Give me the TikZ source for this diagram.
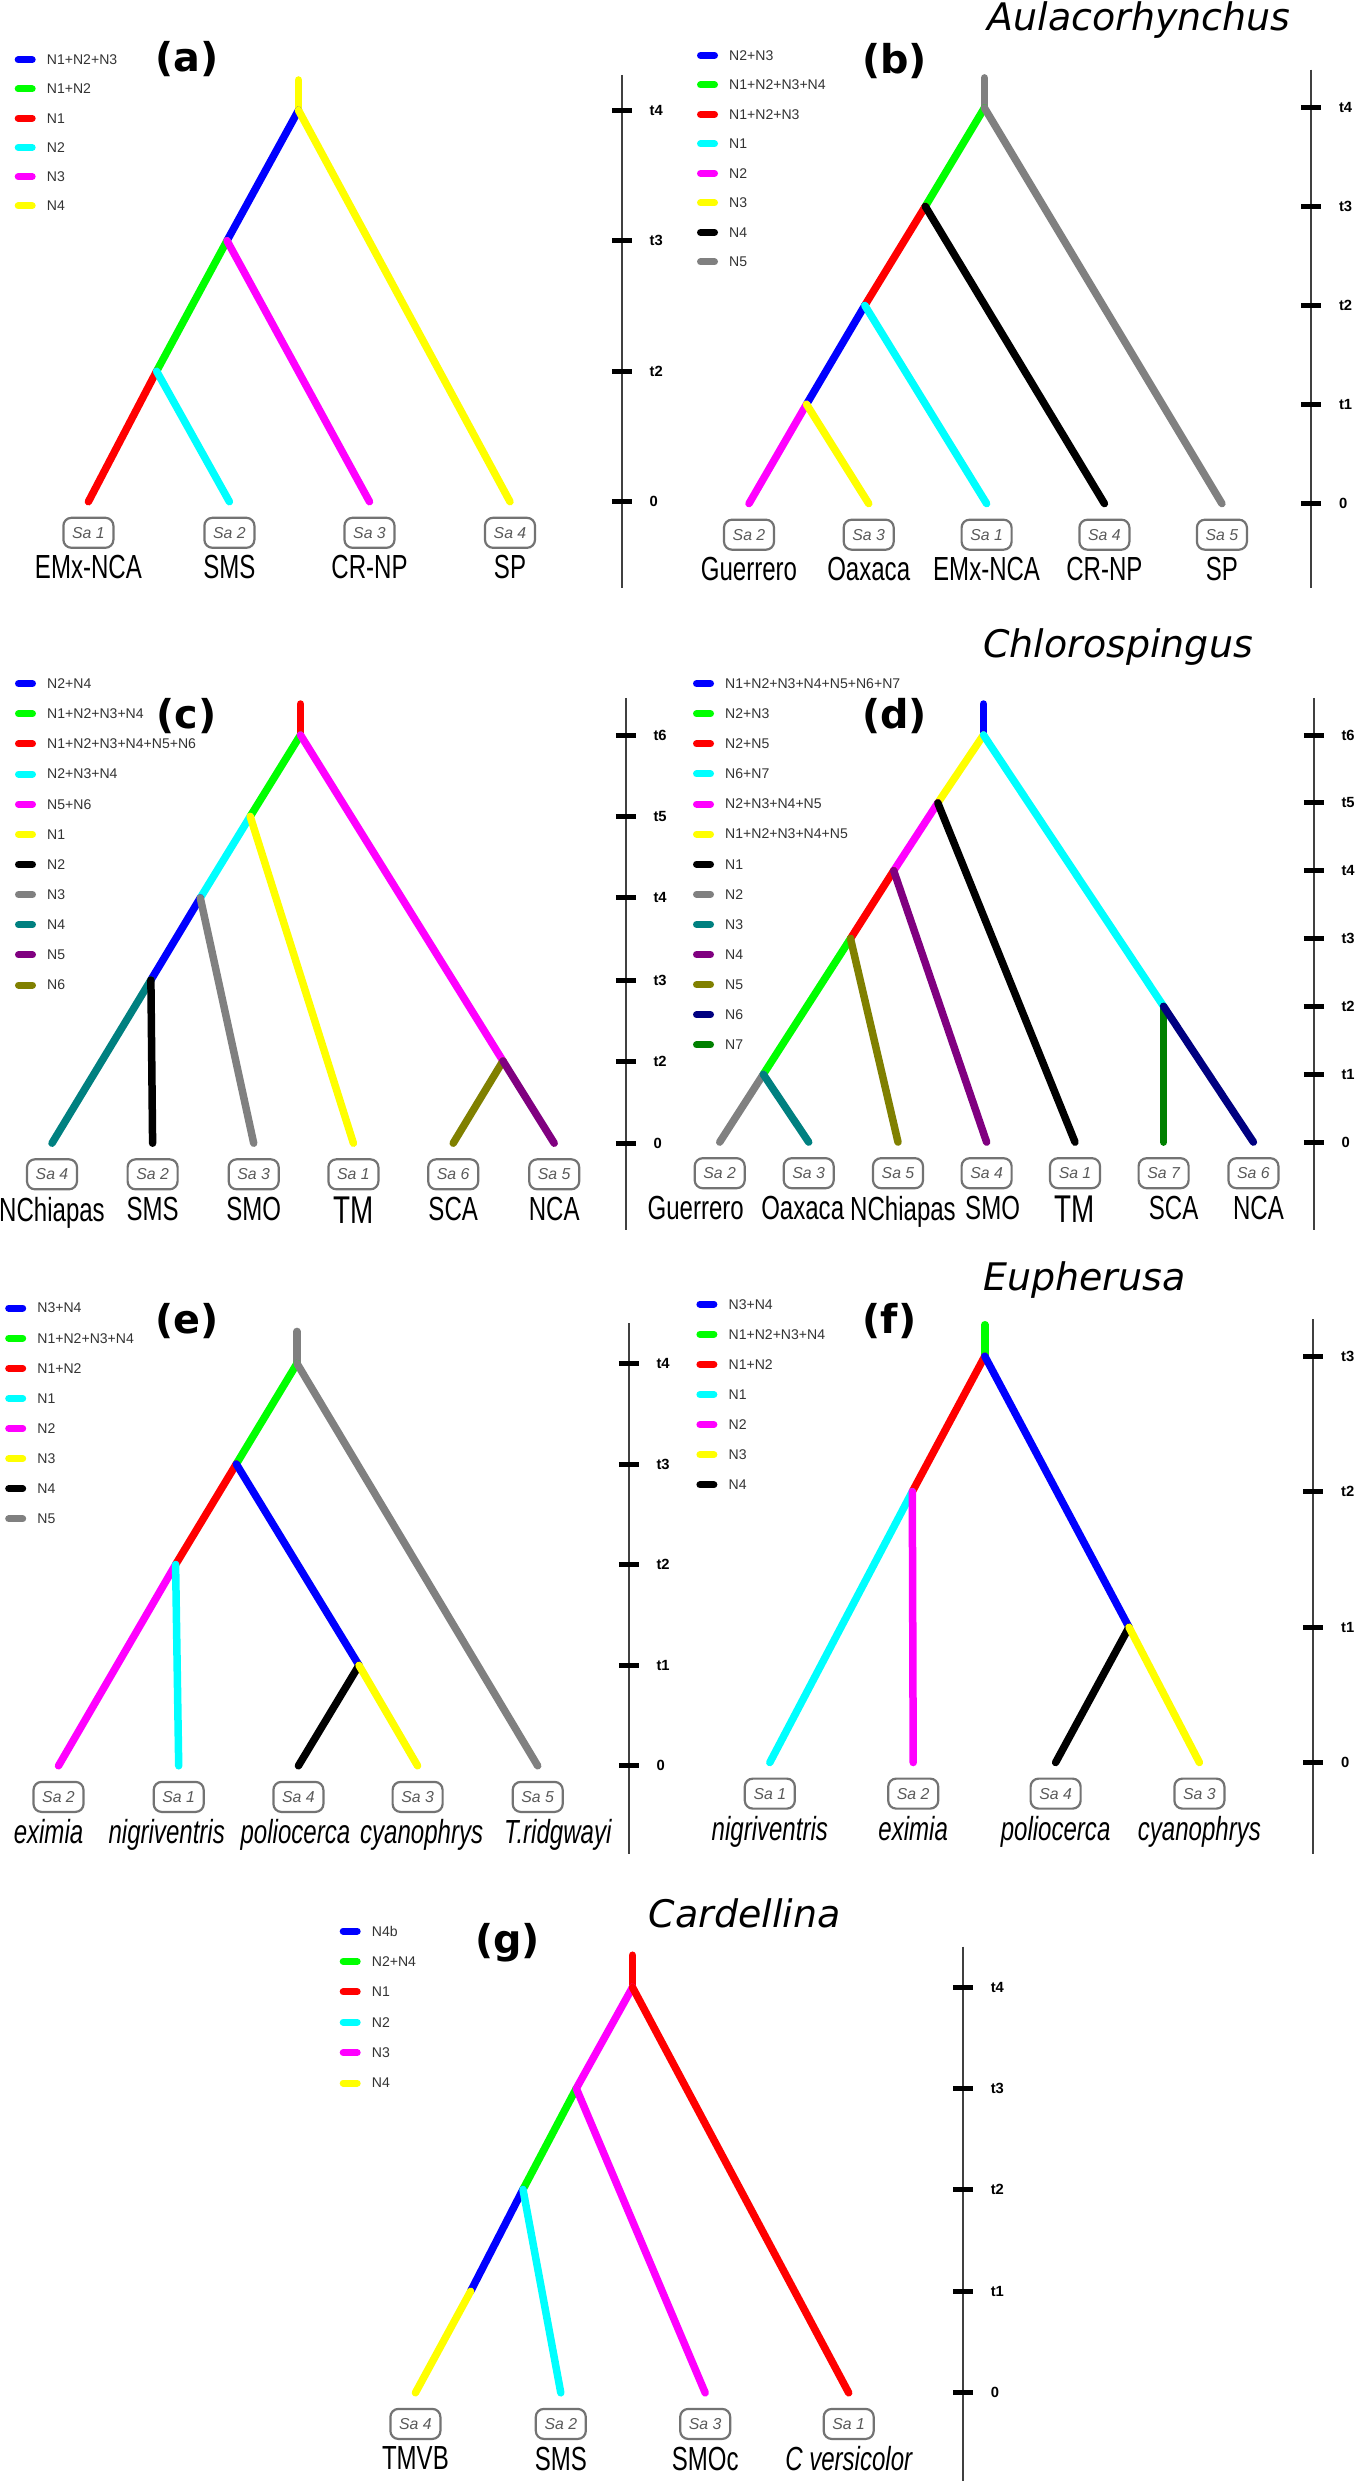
\documentclass[tikz,border=0pt]{standalone}
\usepackage{fontspec}
\setmainfont{Liberation Sans}
\newfontfamily\tipfont[FakeStretch=0.72]{Liberation Sans}
\newfontfamily\headfont[ItalicFont={DejaVu Sans Oblique},BoldFont={DejaVu Sans Bold}]{DejaVu Sans}
\usetikzlibrary{positioning}
\definecolor{nblue}{RGB}{0,0,255}
\definecolor{ngreen}{RGB}{0,255,0}
\definecolor{nred}{RGB}{255,0,0}
\definecolor{ncyan}{RGB}{0,255,255}
\definecolor{nmag}{RGB}{255,0,255}
\definecolor{nyel}{RGB}{255,255,0}
\definecolor{nblack}{RGB}{0,0,0}
\definecolor{ngray}{RGB}{128,128,128}
\definecolor{nteal}{RGB}{0,128,128}
\definecolor{npurp}{RGB}{128,0,128}
\definecolor{nolive}{RGB}{128,128,0}
\definecolor{nnavy}{RGB}{0,0,128}
\definecolor{ndkgr}{RGB}{0,128,0}
\newcommand{\KW}{14}
\newcommand{\KX}{31.5}
\newcommand{\TX}{27}
% colour key: #1 prefix, #2 left x, #3 first row y, #4 row step, #5 colour/text list
\newcommand{\keylist}[5]{%
  \foreach \kc/\kt [count=\i from 0] in {#5} {
    \coordinate (#1s\i) at ({#2+3.5},{#3+\i*#4});
    \coordinate (#1e\i) at ({#2+3.5+\KW},{#3+\i*#4});
    \draw[swatch, draw=\kc] (#1s\i) -- (#1e\i);
    \node[keytext] (#1k\i) at ({#2+\KX},{#3+\i*#4}) {\kt};
  }}
% time axis: #1 prefix, #2 x, #3 top, #4 bottom, #5 y/label list
\newcommand{\timeaxis}[5]{%
  \coordinate (#1top) at (#2,#3);
  \coordinate (#1bot) at (#2,#4);
  \draw[axis] (#1top) -- (#1bot);
  \foreach \ty/\tlab [count=\i] in {#5} {
    \coordinate (#1tl\i) at ({#2-10},\ty);
    \coordinate (#1tr\i) at ({#2+10},\ty);
    \draw[tick] (#1tl\i) -- (#1tr\i);
    \node[ticktext] (#1tt\i) at ({#2+\TX},\ty) {\tlab};
  }}
% tip of a tree: [#1 name shift], #2 name, #3 leaf, #4 Sa number, #5 locality
\newcommand{\tipbox}[5][0mm]{%
  \node[sabox, below=1.5mm of #3] (#2) {Sa #4};
  \node[taxon, below=0.6mm of #2, xshift=#1] (#2n) {#5};}

\begin{document}
\begin{tikzpicture}[
    x=0.1mm, y=-0.1mm,
    br/.style={line width=0.75mm, line cap=round},
    swatch/.style={line width=0.7mm, line cap=round},
    axis/.style={draw=black!75, line width=0.2mm},
    tick/.style={draw=black, line width=0.5mm},
    keytext/.style={font=\fontsize{4}{5}\selectfont, text=black!80, anchor=west, inner sep=0pt},
    ticktext/.style={font=\fontsize{4.2}{5}\selectfont\bfseries, anchor=west, inner sep=0pt},
    sabox/.style={draw=black!55, line width=0.22mm, rounded corners=0.8mm, minimum width=5mm,
                  minimum height=3mm, inner sep=0pt, font=\fontsize{4.5}{5}\selectfont\itshape, text=black!65},
    taxon/.style={font=\tipfont\fontsize{9.5}{10}\selectfont, inner sep=0pt},
    genus/.style={font=\headfont\itshape\fontsize{10.8}{12}\selectfont},
    panel/.style={font=\headfont\bfseries\fontsize{11.3}{13}\selectfont},
  ]
  \useasboundingbox (0,0) rectangle (1357,2481);

  %% ================= (a) =================
  \keylist{a}{14.7}{59.8}{29.2}{nblue/N1+N2+N3, ngreen/N1+N2, nred/N1, ncyan/N2, nmag/N3, nyel/N4}
  \node[panel] (alab) at (187,59) {(a)};
  \coordinate (aT) at (298.5,80);
  \coordinate (aR) at (298.5,110.3);
  \coordinate (aA) at (227,240.7);
  \coordinate (aB) at (156.6,371.2);
  \foreach \x [count=\i] in {88.4,229.4,369.5,510} { \coordinate (aL\i) at (\x,501.7); }
  \draw[br, nyel] (aT) -- (aR);
  \draw[br, nblue] (aR) -- (aA);
  \draw[br, nyel] (aR) -- (aL4);
  \draw[br, ngreen] (aA) -- (aB);
  \draw[br, nmag] (aA) -- (aL3);
  \draw[br, nred] (aB) -- (aL1);
  \draw[br, ncyan] (aB) -- (aL2);
  \timeaxis{a}{622}{75}{588}{110.3/t4, 240.7/t3, 371.2/t2, 501.7/0}
  \foreach \s/\t [count=\i] in {1/EMx-NCA, 2/SMS, 3/CR-NP, 4/SP} { \tipbox{aS\i}{aL\i}{\s}{\t} }

  %% ================= (b) Aulacorhynchus =================
  \node[genus] (bgen) at (1139,19.6) {Aulacorhynchus};
  \keylist{b}{697}{55.4}{29.5}{nblue/N2+N3, ngreen/N1+N2+N3+N4, nred/N1+N2+N3, ncyan/N1, nmag/N2, nyel/N3, nblack/N4, ngray/N5}
  \node[panel] (blab) at (894.6,60.7) {(b)};
  \coordinate (bT) at (984.4,77.9);
  \coordinate (bR) at (984.4,107.9);
  \coordinate (bA) at (925.3,206.4);
  \coordinate (bB) at (864.8,305.4);
  \coordinate (bC) at (806.5,404.3);
  \foreach \x [count=\i] in {749,868.7,986.6,1104.4,1221.9} { \coordinate (bL\i) at (\x,503.6); }
  \draw[br, ngray] (bT) -- (bR);
  \draw[br, ngreen] (bR) -- (bA);
  \draw[br, ngray] (bR) -- (bL5);
  \draw[br, nred] (bA) -- (bB);
  \draw[br, nblack] (bA) -- (bL4);
  \draw[br, nblue] (bB) -- (bC);
  \draw[br, ncyan] (bB) -- (bL3);
  \draw[br, nmag] (bC) -- (bL1);
  \draw[br, nyel] (bC) -- (bL2);
  \timeaxis{b}{1311.3}{69.6}{588}{107.9/t4, 206.4/t3, 305.4/t2, 404.3/t1, 503.6/0}
  \foreach \s/\t [count=\i] in {2/Guerrero, 3/Oaxaca, 1/EMx-NCA, 4/CR-NP, 5/SP} { \tipbox{bS\i}{bL\i}{\s}{\t} }

  %% ================= (c) =================
  \keylist{c}{15}{683.6}{30.14}{nblue/N2+N4, ngreen/N1+N2+N3+N4, nred/N1+N2+N3+N4+N5+N6, ncyan/N2+N3+N4,
    nmag/N5+N6, nyel/N1, nblack/N2, ngray/N3, nteal/N4, npurp/N5, nolive/N6}
  \node[panel] (clab) at (186.5,715.7) {(c)};
  \coordinate (cT) at (300.5,704);
  \coordinate (cR) at (300.5,735);
  \coordinate (cA) at (250.2,816.4);
  \coordinate (cB) at (200.3,897.9);
  \coordinate (cC) at (150.9,980);
  \coordinate (cD) at (503,1061);
  \foreach \x [count=\i] in {52,152.6,253.7,353.4,453.2,554.2} { \coordinate (cL\i) at (\x,1143.2); }
  \draw[br, nred] (cT) -- (cR);
  \draw[br, ngreen] (cR) -- (cA);
  \draw[br, nmag] (cR) -- (cD);
  \draw[br, ncyan] (cA) -- (cB);
  \draw[br, nyel] (cA) -- (cL4);
  \draw[br, nblue] (cB) -- (cC);
  \draw[br, ngray] (cB) -- (cL3);
  \draw[br, nteal] (cC) -- (cL1);
  \draw[br, nblack] (cC) -- (cL2);
  \draw[br, nolive] (cD) -- (cL5);
  \draw[br, npurp] (cD) -- (cL6);
  \timeaxis{c}{625.8}{697.9}{1230}{735/t6, 816.4/t5, 897.9/t4, 980/t3, 1061/t2, 1143.2/0}
  \foreach \s/\t [count=\i] in {4/NChiapas, 2/SMS, 3/SMO, 1/{\fontsize{11}{12}\selectfont TM}, 6/SCA, 5/NCA}
    { \tipbox{cS\i}{cL\i}{\s}{\t} }

  %% ================= (d) Chlorospingus =================
  \node[genus] (dgen) at (1118,646.8) {Chlorospingus};
  \keylist{d}{693}{683.6}{30.1}{nblue/N1+N2+N3+N4+N5+N6+N7, ngreen/N2+N3, nred/N2+N5, ncyan/N6+N7,
    nmag/N2+N3+N4+N5, nyel/N1+N2+N3+N4+N5, nblack/N1, ngray/N2, nteal/N3, npurp/N4, nolive/N5, nnavy/N6, ndkgr/N7}
  \node[panel] (dlab) at (894.6,715.7) {(d)};
  \coordinate (dT) at (983.5,704);
  \coordinate (dR) at (983.5,735);
  \coordinate (dA) at (937.8,802.9);
  \coordinate (dB) at (893.7,870.7);
  \coordinate (dC) at (850.5,938.6);
  \coordinate (dE) at (763.3,1074.3);
  \coordinate (dF) at (1163.6,1006.4);
  \foreach \x [count=\i] in {719.7,808.7,898,986.6,1075,1163.6,1253.4} { \coordinate (dL\i) at (\x,1142.1); }
  \draw[br, nblue] (dT) -- (dR);
  \draw[br, nyel] (dR) -- (dA);
  \draw[br, ncyan] (dR) -- (dF);
  \draw[br, nmag] (dA) -- (dB);
  \draw[br, nblack] (dA) -- (dL5);
  \draw[br, nred] (dB) -- (dC);
  \draw[br, npurp] (dB) -- (dL4);
  \draw[br, ngreen] (dC) -- (dE);
  \draw[br, nolive] (dC) -- (dL3);
  \draw[br, ngray] (dE) -- (dL1);
  \draw[br, nteal] (dE) -- (dL2);
  \draw[br, ndkgr] (dF) -- (dL6);
  \draw[br, nnavy] (dF) -- (dL7);
  \timeaxis{d}{1313.8}{697.9}{1230}{735/t6, 802.9/t5, 870.7/t4, 938.6/t3, 1006.4/t2, 1074.3/t1, 1142.1/0}
  \foreach \s/\t/\dx [count=\i] in {2/Guerrero/-2.4mm, 3/Oaxaca/-0.6mm, 5/NChiapas/0.5mm, 4/SMO/0.6mm,
      1/{\fontsize{11}{12}\selectfont TM}/0mm, 7/SCA/1mm, 6/NCA/0.5mm}
    { \tipbox[\dx]{dS\i}{dL\i}{\s}{\t} }

  %% ================= (e) =================
  \keylist{e}{5.2}{1308.1}{30.1}{nblue/N3+N4, ngreen/N1+N2+N3+N4, nred/N1+N2, ncyan/N1, nmag/N2, nyel/N3, nblack/N4, ngray/N5}
  \node[panel] (elab) at (187.3,1321.4) {(e)};
  \coordinate (eT) at (297,1331.4);
  \coordinate (eR) at (297,1363.5);
  \coordinate (eA) at (236.3,1464);
  \coordinate (eB) at (175.6,1564.5);
  \coordinate (eC) at (359,1665.3);
  \foreach \x [count=\i] in {58.5,178.7,298.4,417.6,537.7} { \coordinate (eL\i) at (\x,1765.8); }
  \draw[br, ngray] (eT) -- (eR);
  \draw[br, ngreen] (eR) -- (eA);
  \draw[br, ngray] (eR) -- (eL5);
  \draw[br, nred] (eA) -- (eB);
  \draw[br, nblue] (eA) -- (eC);
  \draw[br, nmag] (eB) -- (eL1);
  \draw[br, ncyan] (eB) -- (eL2);
  \draw[br, nblack] (eC) -- (eL3);
  \draw[br, nyel] (eC) -- (eL4);
  \timeaxis{e}{628.8}{1323}{1854}{1363.5/t4, 1464/t3, 1564.5/t2, 1665.3/t1, 1765.8/0}
  \foreach \s/\t/\dx [count=\i] in {2/eximia/-1mm, 1/nigriventris/-1.2mm, 4/poliocerca/-0.3mm,
      3/cyanophrys/0.4mm, 5/T.ridgwayi/2mm}
    { \tipbox[\dx]{eS\i}{eL\i}{\s}{\itshape\t} }

  %% ================= (f) Eupherusa =================
  \node[genus] (fgen) at (1084.5,1280) {Eupherusa};
  \keylist{f}{696.4}{1304.2}{30.1}{nblue/N3+N4, ngreen/N1+N2+N3+N4, nred/N1+N2, ncyan/N1, nmag/N2, nyel/N3, nblack/N4}
  \node[panel] (flab) at (889.4,1321.4) {(f)};
  \coordinate (fT) at (984.8,1324.7);
  \coordinate (fR) at (984.8,1356.2);
  \coordinate (fA) at (912.3,1491.6);
  \coordinate (fC) at (1129,1627.2);
  \foreach \x [count=\i] in {769.8,913.2,1055.6,1199.4} { \coordinate (fL\i) at (\x,1762.5); }
  \draw[br, ngreen] (fT) -- (fR);
  \draw[br, nred] (fR) -- (fA);
  \draw[br, nblue] (fR) -- (fC);
  \draw[br, ncyan] (fA) -- (fL1);
  \draw[br, nmag] (fA) -- (fL2);
  \draw[br, nblack] (fC) -- (fL3);
  \draw[br, nyel] (fC) -- (fL4);
  \timeaxis{f}{1313.4}{1319}{1854}{1356.2/t3, 1491.6/t2, 1627.2/t1, 1762.5/0}
  \foreach \s/\t [count=\i] in {1/nigriventris, 2/eximia, 4/poliocerca, 3/cyanophrys}
    { \tipbox{fS\i}{fL\i}{\s}{\itshape\t} }

  %% ================= (g) Cardellina =================
  \node[genus] (ggen) at (744.8,1913.6) {Cardellina};
  \keylist{g}{339.7}{1931}{30.4}{nblue/N4b, ngreen/N2+N4, nred/N1, ncyan/N2, nmag/N3, nyel/N4}
  \node[panel] (glab) at (507.5,1943) {(g)};
  \coordinate (gT) at (632.5,1955.2);
  \coordinate (gR) at (632.5,1987.3);
  \coordinate (gA) at (576.3,2088.4);
  \coordinate (gB) at (523,2189.4);
  \coordinate (gC) at (470.6,2291.3);
  \foreach \x [count=\i] in {415.4,560.8,705.2,848.7} { \coordinate (gL\i) at (\x,2392.8); }
  \draw[br, nred] (gT) -- (gR);
  \draw[br, nmag] (gR) -- (gA);
  \draw[br, nred] (gR) -- (gL4);
  \draw[br, ngreen] (gA) -- (gB);
  \draw[br, nmag] (gA) -- (gL3);
  \draw[br, nblue] (gB) -- (gC);
  \draw[br, ncyan] (gB) -- (gL2);
  \draw[br, nyel] (gC) -- (gL1);
  \timeaxis{g}{963.1}{1946.6}{2481}{1987.3/t4, 2088.4/t3, 2189.4/t2, 2291.3/t1, 2392.8/0}
  \foreach \s/\t [count=\i] in {4/TMVB, 2/SMS, 3/SMOc, 1/{\itshape C versicolor}} { \tipbox{gS\i}{gL\i}{\s}{\t} }

\end{tikzpicture}
\end{document}
